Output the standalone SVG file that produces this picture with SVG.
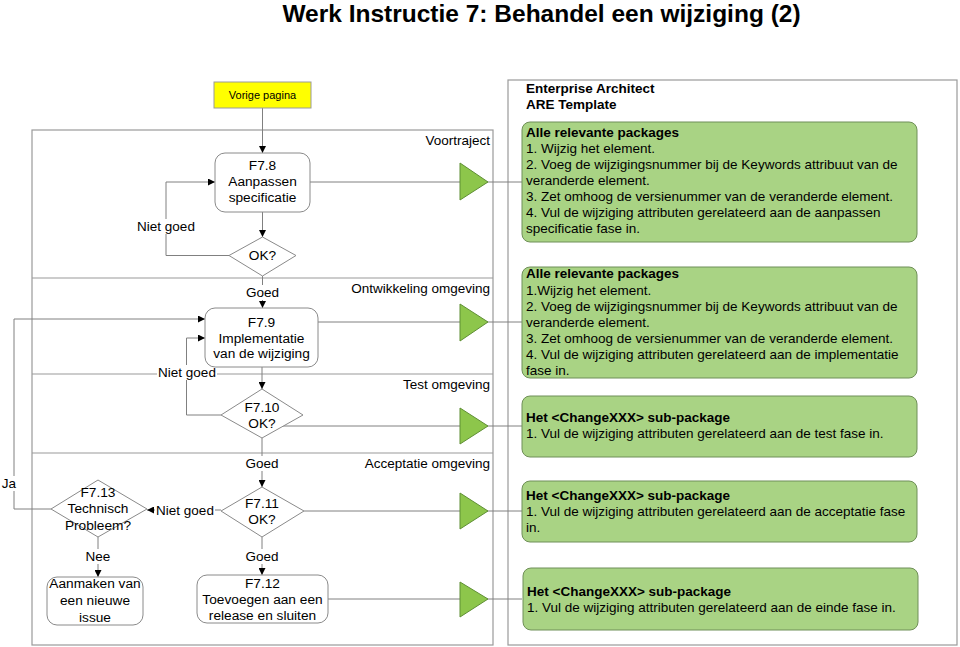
<svg xmlns="http://www.w3.org/2000/svg" width="960" height="647" viewBox="0 0 960 647">
<style>
text{font-family:"Liberation Sans",Arial,sans-serif;fill:#000}
.t{font-size:13.7px;text-anchor:middle}
.lb{font-size:13.5px;text-anchor:middle}
.ln{font-size:13.5px;text-anchor:end}
.g{font-size:13.5px}
.b{font-weight:bold}
.c{fill:none;stroke:#808080;stroke-width:1}
.node{fill:#fff;stroke:#8a8a8a;stroke-width:1}
.frame{fill:none;stroke:#9a9a9a;stroke-width:1.2}
.div{stroke:#9a9a9a;stroke-width:1.2}
.tri{fill:#8dc64b;stroke:#5f8f35;stroke-width:1}
.gb{fill:#a9d384;stroke:#6f8f58;stroke-width:1}
.bg{fill:#fff}
</style>
<defs>
<marker id="arr" viewBox="0 0 10 10" refX="10" refY="5" markerWidth="8" markerHeight="7" orient="auto" markerUnits="userSpaceOnUse"><path d="M0,0 L10,5 L0,10 z" fill="#000"/></marker>
</defs>
<rect width="960" height="647" fill="#fff"/>
<text x="541.5" y="22" style="font-size:24.5px;font-weight:bold;text-anchor:middle">Werk Instructie 7: Behandel een wijziging (2)</text>

<g id="lanes">
<rect class="frame" x="32" y="130" width="461" height="515"/>
<line class="div" x1="32" y1="278" x2="493" y2="278"/>
<line class="div" x1="32" y1="374" x2="493" y2="374"/>
<line class="div" x1="32" y1="453" x2="493" y2="453"/>
<text class="ln" x="490" y="145">Voortraject</text>
<text class="ln" x="490" y="293">Ontwikkeling omgeving</text>
<text class="ln" x="490" y="389">Test omgeving</text>
<text class="ln" x="490" y="468">Acceptatie omgeving</text>
</g>

<g id="ea-frame">
<rect class="frame" x="508" y="80" width="449" height="565"/>
<text class="g b" x="526" y="93">Enterprise Architect</text>
<text class="g b" x="526" y="109">ARE Template</text>
</g>

<g id="connectors">
<path class="c" d="M262.5,108 V153" marker-end="url(#arr)"/>
<path class="c" d="M262.5,212 V237" marker-end="url(#arr)"/>
<path class="c" d="M229,255.5 H166 V182 H215" marker-end="url(#arr)"/>
<path class="c" d="M262.5,276 V308" marker-end="url(#arr)"/>
<path class="c" d="M262,367 V389" marker-end="url(#arr)"/>
<path class="c" d="M221,415 H186.5 V338 H205" marker-end="url(#arr)"/>
<path class="c" d="M262,438 V487" marker-end="url(#arr)"/>
<path class="c" d="M221,510 H147" marker-end="url(#arr)"/>
<path class="c" d="M262,537 V575" marker-end="url(#arr)"/>
<path class="c" d="M51,509 H14 V319 H205" marker-end="url(#arr)"/>
<path class="c" d="M98,537 V577" marker-end="url(#arr)"/>
<path class="c" d="M310,182 H522"/>
<path class="c" d="M318,322 H522"/>
<path class="c" d="M283,426 H522"/>
<path class="c" d="M304,511 H522"/>
<path class="c" d="M328,599 H522"/>
<rect class="bg" x="136" y="219" width="60" height="15"/>
<text class="lb" x="166" y="231">Niet goed</text>
<rect class="bg" x="246" y="285" width="33" height="15"/>
<text class="lb" x="262.5" y="297">Goed</text>
<rect class="bg" x="157" y="365" width="60" height="15"/>
<text class="lb" x="187" y="377">Niet goed</text>
<rect class="bg" x="246" y="456" width="33" height="15"/>
<text class="lb" x="262" y="468">Goed</text>
<rect class="bg" x="155" y="503" width="60" height="15"/>
<text class="lb" x="185" y="515">Niet goed</text>
<rect class="bg" x="246" y="549" width="33" height="15"/>
<text class="lb" x="262" y="561">Goed</text>
<rect class="bg" x="84" y="549" width="28" height="15"/>
<text class="lb" x="98" y="561">Nee</text>
<rect class="bg" x="1" y="476" width="16" height="15"/>
<text class="lb" x="9" y="488">Ja</text>
</g>

<g id="vorige">
<rect x="214" y="82" width="97" height="26" fill="#ffff00" stroke="#9a9a9a"/>
<text x="262.5" y="99" style="font-size:11px;text-anchor:middle">Vorige pagina</text>
</g>
<g id="f7-8">
<rect class="node" x="215" y="153" width="95" height="59" rx="10"/>
<text class="t" x="262.5" y="170">F7.8</text>
<text class="t" x="262.5" y="186">Aanpassen</text>
<text class="t" x="262.5" y="202">specificatie</text>
</g>
<g id="ok1">
<polygon class="node" points="262.5,237 296,255.5 262.5,276 229,255.5"/>
<text class="t" x="262.5" y="260">OK?</text>
</g>
<g id="f7-9">
<rect class="node" x="205" y="308" width="113" height="59" rx="10"/>
<text class="t" x="261.5" y="327">F7.9</text>
<text class="t" x="261.5" y="342.5">Implementatie</text>
<text class="t" x="261.5" y="358">van de wijziging</text>
</g>
<g id="f7-10">
<polygon class="node" points="262,389 303,415 262,438 221,415"/>
<text class="t" x="262" y="412">F7.10</text>
<text class="t" x="262" y="428">OK?</text>
</g>
<g id="f7-11">
<polygon class="node" points="262,487 304,511 262,537 221,511"/>
<text class="t" x="262" y="508">F7.11</text>
<text class="t" x="262" y="524">OK?</text>
</g>
<g id="f7-12">
<rect class="node" x="197" y="575" width="131" height="48" rx="10"/>
<text class="t" x="262.5" y="588">F7.12</text>
<text class="t" x="262.5" y="604">Toevoegen aan een</text>
<text class="t" x="262.5" y="620">release en sluiten</text>
</g>
<g id="f7-13">
<polygon class="node" points="98,480 147,509 98,537 51,509"/>
<text class="t" x="98" y="497">F7.13</text>
<text class="t" x="98" y="513">Technisch</text>
<text class="t" x="98" y="530">Probleem?</text>
</g>
<g id="aanmaken">
<rect class="node" x="47" y="577" width="96" height="48" rx="10"/>
<text class="t" x="95" y="588">Aanmaken van</text>
<text class="t" x="95" y="605">een nieuwe</text>
<text class="t" x="95" y="622">issue</text>
</g>

<g id="tri-voortraject"><polygon class="tri" points="460,163 488,182 460,200"/></g>
<g id="tri-ontwikkeling"><polygon class="tri" points="460,304 488,322 460,341"/></g>
<g id="tri-test"><polygon class="tri" points="460,408 488,426 460,444"/></g>
<g id="tri-acceptatie"><polygon class="tri" points="460,493 488,511 460,529"/></g>
<g id="tri-einde"><polygon class="tri" points="460,582 488,599 460,617"/></g>

<g id="ea1">
<rect class="gb" x="522" y="122" width="395" height="120" rx="8"/>
<text class="g b" x="526" y="137">Alle relevante packages</text>
<text class="g" x="526" y="153">1. Wijzig het element.</text>
<text class="g" x="526" y="169">2. Voeg de wijzigingsnummer bij de Keywords attribuut van de</text>
<text class="g" x="526" y="185">veranderde element.</text>
<text class="g" x="526" y="201">3. Zet omhoog de versienummer van de veranderde element.</text>
<text class="g" x="526" y="217">4. Vul de wijziging attributen gerelateerd aan de aanpassen</text>
<text class="g" x="526" y="233">specificatie fase in.</text>
</g>
<g id="ea2">
<rect class="gb" x="522" y="267" width="395" height="111" rx="8"/>
<text class="g b" x="526" y="278">Alle relevante packages</text>
<text class="g" x="526" y="294.5">1.Wijzig het element.</text>
<text class="g" x="526" y="310.5">2. Voeg de wijzigingsnummer bij de Keywords attribuut van de</text>
<text class="g" x="526" y="326.5">veranderde element.</text>
<text class="g" x="526" y="343">3. Zet omhoog de versienummer van de veranderde element.</text>
<text class="g" x="526" y="359">4. Vul de wijziging attributen gerelateerd aan de implementatie</text>
<text class="g" x="526" y="375">fase in.</text>
</g>
<g id="ea3">
<rect class="gb" x="522" y="396" width="395" height="61" rx="8"/>
<text class="g b" x="526" y="422">Het &lt;ChangeXXX&gt; sub-package</text>
<text class="g" x="526" y="438">1. Vul de wijziging attributen gerelateerd aan de test fase in.</text>
</g>
<g id="ea4">
<rect class="gb" x="522" y="481" width="395" height="61" rx="8"/>
<text class="g b" x="526" y="500">Het &lt;ChangeXXX&gt; sub-package</text>
<text class="g" x="526" y="516">1. Vul de wijziging attributen gerelateerd aan de acceptatie fase</text>
<text class="g" x="526" y="532">in.</text>
</g>
<g id="ea5">
<rect class="gb" x="523" y="568" width="395" height="62" rx="8"/>
<text class="g b" x="527" y="596">Het &lt;ChangeXXX&gt; sub-package</text>
<text class="g" x="527" y="612">1. Vul de wijziging attributen gerelateerd aan de einde fase in.</text>
</g>
</svg>
